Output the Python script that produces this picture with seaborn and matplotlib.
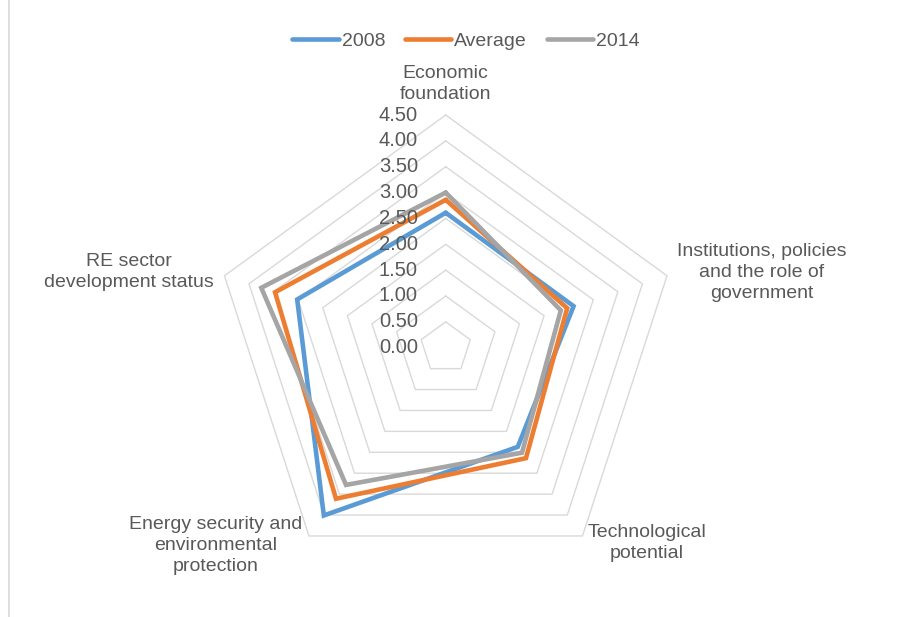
import numpy as np
import pandas as pd
import matplotlib
matplotlib.use("Agg")
import matplotlib.pyplot as plt
from matplotlib.lines import Line2D
import seaborn as sns

# radar chart data
categories = ["Economic\nfoundation",
              "Institutions, policies\nand the role of\ngovernment",
              "Technological\npotential",
              "Energy security and\nenvironmental\nprotection",
              "RE sector\ndevelopment status"]
series_names = ["2008", "Average", "2014"]
vals_2008 = [2.61, 2.60, 2.37, 4.01, 3.02]
vals_avg = [2.86, 2.47, 2.64, 3.61, 3.47]
vals_2014 = [3.00, 2.34, 2.51, 3.28, 3.75]
levels = [0.5, 1.0, 1.5, 2.0, 2.5, 3.0, 3.5, 4.0, 4.5]
tick_labels = ["0.00", "0.50", "1.00", "1.50", "2.00", "2.50", "3.00", "3.50", "4.00", "4.50"]

colors = ["#5B9BD5", "#ED7D31", "#A5A5A5"]
txt = "#595959"
grid_c = "#D9D9D9"

sns.set_style("white")
plt.rcParams['font.family'] = ['Liberation Sans', 'DejaVu Sans']

n = len(categories)
theta = np.linspace(0, 2 * np.pi, n, endpoint=False)
theta_closed = np.append(theta, 2 * np.pi)

rows = []
for name, vals in zip(series_names, [vals_2008, vals_avg, vals_2014]):
    vv = list(vals) + [vals[0]]
    for i in range(n + 1):
        rows.append({"theta": theta_closed[i], "value": vv[i], "series": name})
df = pd.DataFrame(rows)

fig = plt.figure(figsize=(9.03, 6.17), dpi=100)
ax = fig.add_axes([0.2359, 0.0593, 0.5154, 0.7543], projection="polar")
ax.set_theta_offset(np.pi / 2)
ax.set_theta_direction(-1)

# pentagon gridlines
for lvl in levels:
    ax.plot(theta_closed, [lvl] * (n + 1), color=grid_c, lw=1.0, zorder=0, clip_on=False)

sns.lineplot(data=df, x="theta", y="value", hue="series", palette=colors,
             sort=False, estimator=None, lw=3.3, ax=ax, legend=True,
             solid_joinstyle="miter", clip_on=False)

ax.set_ylim(0, 4.5)
ax.grid(False)
ax.set_xticks([])
ax.set_yticks([])
ax.set_xlabel("")
ax.set_ylabel("")
ax.spines["polar"].set_visible(False)

# radial value labels
for i, lab in enumerate(tick_labels):
    ax.annotate(lab, xy=(0, i * 0.5), xytext=(-20, 0), textcoords="offset points",
                ha="right", va="center", fontsize=14.5, color=txt)

# category labels
lab_r = [4.74, 4.70, 4.66, 4.72, 4.71]
lab_ha = ["center", "left", "left", "right", "right"]
lab_va = ["bottom", "center", "center", "center", "center"]
for t, c, r, ha, va in zip(theta, categories, lab_r, lab_ha, lab_va):
    ax.text(t, r, c, ha=ha, va=va, multialignment="center", fontsize=14,
            color=txt, linespacing=1.3)

h, l = ax.get_legend_handles_labels()
ax.legend(h, l, loc="center", bbox_to_anchor=(466 / 903, 1 - 41 / 617),
          bbox_transform=fig.transFigure, ncol=3, frameon=False, fontsize=14,
          handlelength=2.4, handletextpad=0.15, columnspacing=1.0, labelcolor=txt)

fig.add_artist(Line2D([9 / 903, 9 / 903], [0, 1], color=grid_c, lw=1.2,
                      transform=fig.transFigure))

fig.savefig("out.png", dpi=100, facecolor="white")
